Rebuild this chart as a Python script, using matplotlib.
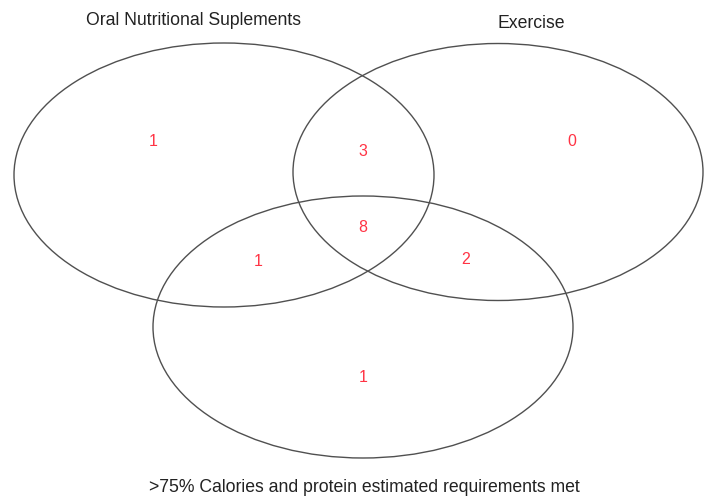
import matplotlib
matplotlib.use("Agg")
import matplotlib.pyplot as plt
from matplotlib.patches import Ellipse

# set names and region counts
set_names = ["Oral Nutritional Suplements", "Exercise",
             ">75% Calories and protein estimated requirements met"]
region_keys = ["A", "AB", "B", "ABC", "AC", "BC", "C"]
region_counts = [1, 3, 0, 8, 1, 2, 1]

# layout (pixel coordinates, y down)
ellipses = [(224, 175, 420, 264), (498, 172, 410, 257), (363, 327, 420, 262)]
name_pos = [(193, 20), (531, 23), (364, 488)]
count_pos = {"A": (153, 141), "AB": (363, 152), "B": (572, 141),
             "ABC": (363, 228), "AC": (258, 261), "BC": (466, 260),
             "C": (363, 377)}

plt.rcParams['font.family'] = ['Liberation Sans', 'DejaVu Sans']

fig = plt.figure(figsize=(7.05, 5.03), dpi=100)
ax = fig.add_axes([0, 0, 1, 1])
ax.set_xlim(0, 705)
ax.set_ylim(503, 0)
ax.axis('off')

for cx, cy, w, h in ellipses:
    ax.add_patch(Ellipse((cx, cy), w, h, fill=False, edgecolor='#505050', linewidth=1.0))

for name, (x, y) in zip(set_names, name_pos):
    ax.text(x, y, name, ha='center', va='center', fontsize=12.7, color='#222222')

for key, n in zip(region_keys, region_counts):
    x, y = count_pos[key]
    ax.text(x, y, str(n), ha='center', va='center', fontsize=11.5, color='#ff3344')

fig.savefig('out.png', dpi=100)
